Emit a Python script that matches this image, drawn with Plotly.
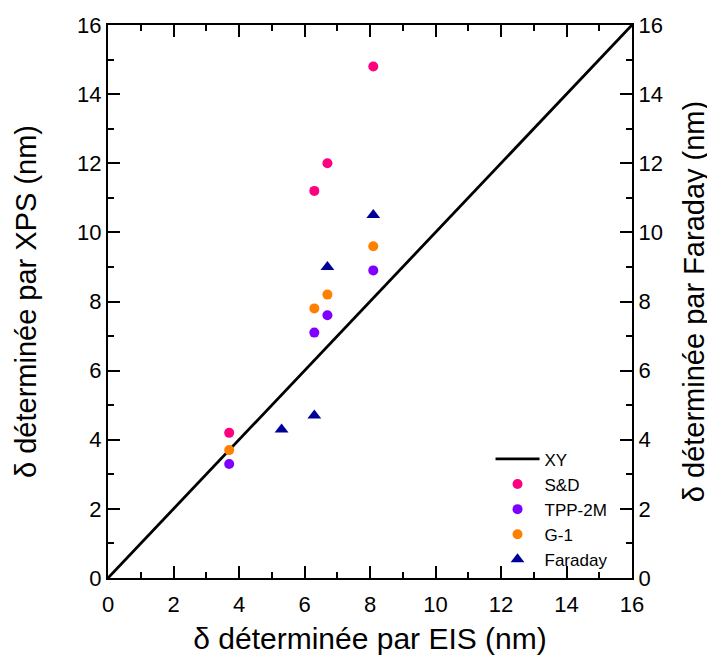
import plotly.graph_objects as go

xy_x = [0, 16]
xy_y = [0, 16]

sd_x = [3.7, 6.3, 6.7, 8.1]
sd_y = [4.2, 11.2, 12.0, 14.8]

tpp_x = [3.7, 6.3, 6.7, 8.1]
tpp_y = [3.3, 7.1, 7.6, 8.9]

g1_x = [3.7, 6.3, 6.7, 8.1]
g1_y = [3.7, 7.8, 8.2, 9.6]

far_x = [5.3, 6.3, 6.7, 8.1]
far_y = [4.3, 4.7, 9.0, 10.5]

ticks = [0, 2, 4, 6, 8, 10, 12, 14, 16]

FONT = "Liberation Sans, Arial, sans-serif"

fig = go.Figure()
fig.add_trace(go.Scatter(x=xy_x, y=xy_y, mode="lines", name="XY",
                         line=dict(color="black", width=2.8)))
fig.add_trace(go.Scatter(x=sd_x, y=sd_y, mode="markers", name="S&D",
                         marker=dict(color="#FF0080", size=10, symbol="circle")))
fig.add_trace(go.Scatter(x=tpp_x, y=tpp_y, mode="markers", name="TPP-2M",
                         marker=dict(color="#8000FF", size=10, symbol="circle")))
fig.add_trace(go.Scatter(x=g1_x, y=g1_y, mode="markers", name="G-1",
                         marker=dict(color="#FF8000", size=10, symbol="circle")))
fig.add_trace(go.Scatter(x=far_x, y=far_y, mode="markers", name="Faraday", yaxis="y2",
                         marker=dict(color="#000099", size=12, symbol="triangle-up")))

axis_common = dict(
    range=[0, 16], tickvals=ticks, ticks="inside", ticklen=12, tickwidth=2,
    tickcolor="black", showline=True, linecolor="black", linewidth=2,
    showgrid=False, zeroline=False, automargin=False,
    tickfont=dict(family=FONT, size=22, color="black"),
    minor=dict(ticks="inside", ticklen=6, tickwidth=2, dtick=1, tickcolor="black", showgrid=False),
)

fig.update_layout(
    width=715, height=663,
    margin=dict(l=100, r=91, t=17, b=93),
    paper_bgcolor="white", plot_bgcolor="white",
    font=dict(family=FONT, color="black"),
    xaxis=dict(**axis_common, mirror="ticks", ticklabelstandoff=6,
               title=dict(text="δ déterminée par EIS (nm)", font=dict(family=FONT, size=30), standoff=12)),
    yaxis=dict(**axis_common, mirror=True,
               title=dict(text="δ déterminée par XPS (nm)", font=dict(family=FONT, size=29), standoff=32)),
    yaxis2=dict(**axis_common, overlaying="y", side="right",
                title=dict(text="δ déterminée par Faraday (nm)", font=dict(family=FONT, size=29), standoff=22)),
    legend=dict(x=0.73, y=0.247, xanchor="left", yanchor="top",
                bgcolor="rgba(0,0,0,0)", borderwidth=0,
                font=dict(family=FONT, size=17), tracegroupgap=0, itemwidth=44),
    showlegend=True,
)

fig.write_html("out.html")
